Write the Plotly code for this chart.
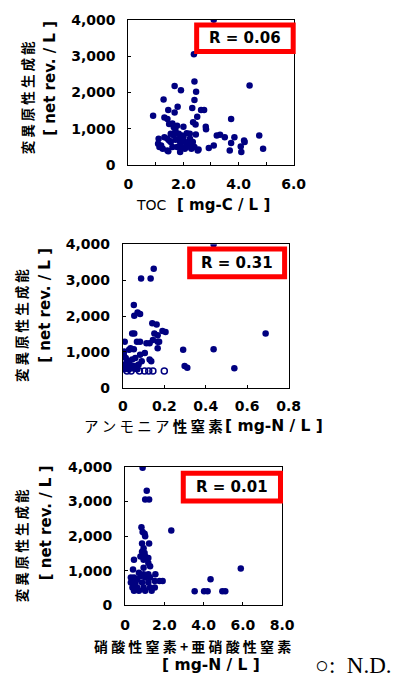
import plotly.graph_objects as go

W, H = 408, 681

# ---- TOC vs mutagen formation potential ----
toc_x = [3.10, 2.38, 2.40, 1.68, 1.91, 2.46, 4.40, 1.28, 2.40, 1.79, 1.45, 2.32, 2.64, 2.75,
         1.68, 0.90, 2.50, 1.31, 1.42, 3.73, 1.48, 1.60, 2.35, 2.44, 1.77, 2.00, 2.81, 2.82,
         1.65, 1.71, 1.65, 1.83, 2.00, 2.12, 2.23, 2.45, 1.31, 1.54, 3.21, 3.33, 3.50, 3.85,
         4.75, 1.48, 1.54, 1.71, 1.88, 2.06, 2.21, 2.34, 4.20, 4.22, 3.73, 1.10, 1.42, 1.08,
         1.19, 1.60, 1.77, 1.94, 2.12, 2.29, 1.25, 1.42, 1.88, 2.23, 2.52, 2.92, 3.10, 4.08,
         4.10, 3.68, 4.89, 1.13, 1.45, 2.40, 2.55, 2.05, 2.17, 1.85, 1.95, 2.24]
toc_y = [4000, 3050, 2300, 2180, 2060, 2020, 2195, 1805, 1790, 1605, 1515, 1570, 1515, 1515,
         1450, 1360, 1330, 1315, 1270, 1270, 1134, 1150, 1180, 1116, 1088, 1060, 1061, 990,
         1043, 952, 816, 862, 771, 880, 862, 844, 771, 862, 816, 835, 771, 771,
         816, 680, 635, 699, 635, 635, 590, 635, 680, 635, 608, 725, 725, 590,
         544, 499, 499, 499, 499, 454, 454, 408, 363, 544, 408, 471, 544, 517,
         363, 408, 454, 499, 381, 499, 435, 454, 544, 725, 816, 725]

# ---- ammonia nitrogen ----
nh4_x = [0.438, 0.149, 0.088, 0.134, 0.053, 0.071, 0.083, 0.055, 0.142, 0.163, 0.191, 0.206,
         0.152, 0.168, 0.045, 0.055, 0.689, 0.145, 0.168, 0.175, 0.129, 0.114, 0.009, 0.068,
         0.083, 0.037, 0.053, 0.030, 0.168, 0.106, 0.291, 0.438, 0.006, 0.083, 0.091, 0.129,
         0.137, 0.014, 0.030, 0.045, 0.060, 0.006, 0.022, 0.045, 0.060, 0.076, 0.298, 0.311,
         0.538, 0.010, 0.030, 0.055, 0.070, 0.005, 0.020]
nh4_y = [4000, 3320, 3050, 3050, 2310, 2100, 2057, 2011, 1802, 1766, 1584, 1557,
         1513, 1467, 1513, 1513, 1512, 1331, 1285, 1285, 1241, 1241, 1285, 1285,
         1285, 1105, 1078, 1060, 1105, 970, 1060, 1078, 1015, 924, 742, 788,
         742, 834, 742, 788, 834, 652, 606, 606, 606, 652, 606, 562,
         543, 516, 520, 530, 516, 900, 700]
# N.D. samples (open circles)
nh4_nd_x = [0.020, 0.040, 0.080, 0.105, 0.125, 0.145, 0.200]
nh4_nd_y = [470, 470, 470, 470, 470, 470, 470]

# ---- nitrate + nitrite nitrogen ----
no3_x = [0.89, 1.10, 1.02, 1.22, 0.83, 0.89, 0.99, 1.02, 2.35, 0.86, 1.22, 0.94, 0.86, 0.99,
         0.78, 1.02, 1.18, 0.45, 0.94, 1.18, 1.27, 0.94, 0.40, 0.70, 0.94, 1.18, 1.54, 0.29,
         0.45, 0.61, 0.78, 1.02, 1.27, 1.51, 1.75, 1.91, 0.29, 0.53, 0.86, 1.18, 0.37, 0.61,
         0.94, 1.27, 1.51, 0.45, 0.70, 1.02, 1.35, 3.54, 4.02, 4.20, 4.35, 4.95, 5.10, 5.89]
no3_y = [3980, 3310, 3060, 3060, 2260, 2120, 2070, 2000, 2165, 1790, 1790, 1650, 1550, 1510,
         1410, 1410, 1365, 1320, 1320, 1225, 1130, 1085, 1036, 943, 895, 895, 895, 801,
         801, 754, 847, 801, 801, 706, 706, 706, 660, 660, 660, 660, 519, 519,
         519, 519, 519, 424, 424, 424, 424, 406, 406, 406, 754, 406, 406, 1064]

r_labels = ["R = 0.06", "R = 0.31", "R = 0.01"]

y_tickvals = [0, 1000, 2000, 3000, 4000]
y_ticktext = ["0", "1,000", "2,000", "3,000", "4,000"]

x1_tickvals = [0, 1, 2, 3, 4, 5, 6]
x1_ticktext = ["0", "", "2.0", "", "4.0", "", "6.0"]
x2_tickvals = [0, 0.2, 0.4, 0.6, 0.8]
x2_ticktext = ["0", "0.2", "0.4", "0.6", "0.8"]
x3_tickvals = [0, 2, 4, 6, 8]
x3_ticktext = ["0", "2.0", "4.0", "6.0", "8.0"]

NAVY = "#000080"
LATIN = "DejaVu Sans"
CJK = "Noto Sans CJK JP"


def px_x(v):
    return v / W


def px_y(v):
    return 1 - v / H


fig = go.Figure()
marker = dict(color=NAVY, size=6.5, line=dict(width=0))
fig.add_trace(go.Scatter(x=toc_x, y=toc_y, mode="markers", marker=marker,
                         xaxis="x", yaxis="y", showlegend=False))
fig.add_trace(go.Scatter(x=nh4_x, y=nh4_y, mode="markers", marker=marker,
                         xaxis="x2", yaxis="y2", showlegend=False))
fig.add_trace(go.Scatter(x=nh4_nd_x, y=nh4_nd_y, mode="markers",
                         marker=dict(symbol="circle-open", color=NAVY, size=6,
                                     line=dict(width=1.5, color=NAVY)),
                         xaxis="x2", yaxis="y2", showlegend=False))
fig.add_trace(go.Scatter(x=no3_x, y=no3_y, mode="markers", marker=marker,
                         xaxis="x3", yaxis="y3", showlegend=False))

tickfont = dict(family=LATIN, size=14, color="black", weight="bold")
axis_common = dict(showline=True, mirror=True, linecolor="black", linewidth=1,
                   showgrid=False, zeroline=False, ticks="inside", ticklen=3,
                   tickcolor="black", tickfont=tickfont, tickmode="array")

# plot-area rectangles in pixels: (left, right, top, bottom)
panels = [(129, 302, 12, 161), (123.3, 296.7, 242, 389), (125.7, 290, 470, 611.7)]
xranges = [[0, 6], [0, 0.8], [0, 8]]
xticks = [(x1_tickvals, x1_ticktext), (x2_tickvals, x2_ticktext), (x3_tickvals, x3_ticktext)]
xstandoff = [6, 5, 7]

layout_axes = {}
for i, (l, r, t, b) in enumerate(panels):
    sfx = "" if i == 0 else str(i + 1)
    layout_axes["xaxis" + sfx] = dict(
        axis_common, domain=[px_x(l), px_x(r)], range=xranges[i],
        anchor="y" + sfx, tickvals=xticks[i][0], ticktext=xticks[i][1],
        ticklabelstandoff=xstandoff[i])
    layout_axes["yaxis" + sfx] = dict(
        axis_common, domain=[px_y(b), px_y(t)], range=[0, 4000],
        anchor="x" + sfx, tickvals=y_tickvals, ticktext=y_ticktext,
        ticklabelstandoff=9)

# red correlation boxes (stroke centre lines, pixels)
boxes = [(200.5, 301.5, 17.5, 44.5), (193.2, 292.5, 246.8, 275.2), (186.5, 288.2, 476.5, 504.8)]
shapes = []
annotations = []
for (x0, x1, y0, y1), lab in zip(boxes, r_labels):
    shapes.append(dict(type="rect", xref="paper", yref="paper",
                       x0=px_x(x0), x1=px_x(x1), y0=px_y(y1), y1=px_y(y0),
                       line=dict(color="#ff0000", width=5), fillcolor="white",
                       layer="above"))
    annotations.append(dict(xref="paper", yref="paper", x=px_x((x0 + x1) / 2),
                            y=px_y((y0 + y1) / 2), text=lab, showarrow=False,
                            xanchor="center", yanchor="middle",
                            font=dict(family=LATIN, size=15, color="black", weight="bold")))


def note(x, y, text, family, size, weight="normal", angle=0):
    annotations.append(dict(xref="paper", yref="paper", x=px_x(x), y=px_y(y),
                            text=text, showarrow=False, textangle=angle,
                            xanchor="center", yanchor="middle",
                            font=dict(family=family, size=size, color="black",
                                      weight=weight)))


ytitle_jp = "変 異 原 性 生 成 能"
ytitle_unit = "[ net rev. / L ]"
# y-axis titles: (jp x, jp y, unit x, unit y)
ytitle_pos = [(22.5, 92, 47.5, 72), (17.5, 325, 41.7, 304), (17, 551, 43, 527.5)]
for jx, jy, ux, uy in ytitle_pos:
    note(jx, jy, ytitle_jp, CJK, 13.5, "bold", -90)
    note(ux, uy, ytitle_unit, LATIN, 15, "bold", -90)

# x-axis titles
note(153, 202, "TOC", LATIN, 14, "normal")
note(229, 202, "[ mg-C / L ]", LATIN, 15, "bold")
note(155.5, 428, "ア ン モ ニ ア <b>性 窒 素</b>", CJK, 14.5, "normal")
note(281, 428, "[ mg-N / L ]", LATIN, 15.5, "bold")
note(196, 653, "<b>硝 酸 性 窒 素 + 亜 硝 酸 性 窒 素</b>", CJK, 14, "normal")
note(215, 673, "[ mg-N / L ]", LATIN, 15.5, "bold")

# legend note for open circles
annotations.append(dict(xref="paper", yref="paper", x=px_x(407), y=px_y(673),
                        text="○:  N.D.", showarrow=False, xanchor="right",
                        yanchor="middle",
                        font=dict(family="Liberation Serif", size=23, color="black")))

fig.update_layout(
    width=W, height=H, margin=dict(l=0, r=0, t=0, b=0),
    paper_bgcolor="white", plot_bgcolor="white",
    shapes=shapes, annotations=annotations, **layout_axes)

fig.write_html("out.html")
